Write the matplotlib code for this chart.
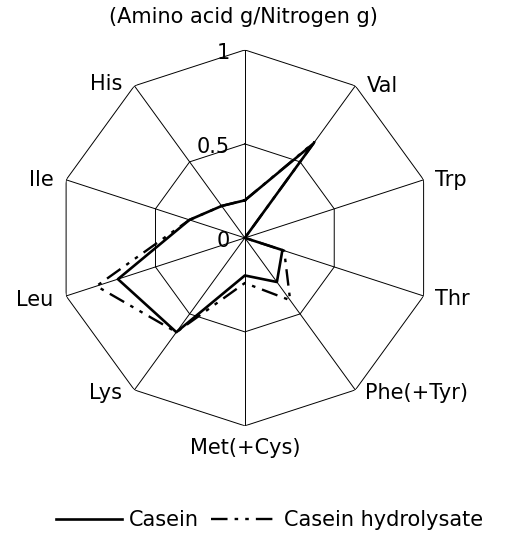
import numpy as np
import matplotlib
matplotlib.use('Agg')
from matplotlib import pyplot as plt

plt.rcParams['font.family'] = ['DejaVu Sans']

# axes clockwise from the top; the top spoke carries no label
labels = ['', 'Val', 'Trp', 'Thr', 'Phe(+Tyr)', 'Met(+Cys)', 'Lys', 'Leu', 'Ile', 'His']
casein = [0.20, 0.62, 0.0, 0.21, 0.29, 0.20, 0.62, 0.71, 0.31, 0.21]
hydrolysate = [0.20, 0.63, 0.0, 0.22, 0.41, 0.24, 0.62, 0.83, 0.31, 0.21]
rings = [0.5, 1.0]
ring_labels = ['0', '0.5', '1']

# label placement: offset in points, alignment
label_pos = {
    'Val': ((8, 0), 'left', 'center'),
    'Trp': ((8, 0), 'left', 'center'),
    'Thr': ((8, -2), 'left', 'center'),
    'Phe(+Tyr)': ((7, -2), 'left', 'center'),
    'Met(+Cys)': ((0, -16), 'center', 'center'),
    'Lys': ((-9, -2), 'right', 'center'),
    'Leu': ((-9, -3), 'right', 'center'),
    'Ile': ((-9, 0), 'right', 'center'),
    'His': ((-9, 1), 'right', 'center'),
}
fs = 15

n = len(labels)
ang = np.linspace(0, 2 * np.pi, n, endpoint=False)
ang_c = np.append(ang, ang[0])

fig = plt.figure(figsize=(5.08, 5.37), dpi=100)
ax = fig.add_axes([0.112, 0.207, 0.740, 0.700], projection='polar')
ax.set_theta_zero_location('N')
ax.set_theta_direction(-1)
ax.set_ylim(0, 1)
ax.set_xticks([])
ax.set_yticks([])
ax.grid(False)
ax.spines['polar'].set_visible(False)

# polygon grid and spokes
for r in rings:
    ax.plot(ang_c, [r] * (n + 1), color='black', lw=0.7)
for a in ang:
    ax.plot([a, a], [0, 1], color='black', lw=0.7)

l1, = ax.plot(ang_c, casein + casein[:1], color='black', lw=1.9, label='Casein')
l2, = ax.plot(ang_c, hydrolysate + hydrolysate[:1], color='black', lw=1.7,
              linestyle=(0, (7, 3, 1.5, 3, 1.5, 3)), label='Casein hydrolysate')

for a, lab in zip(ang, labels):
    if not lab:
        continue
    off, ha, va = label_pos[lab]
    ax.annotate(lab, xy=(a, 1), xytext=off, textcoords='offset points',
                ha=ha, va=va, fontsize=fs)

for r, t in zip([0.0] + rings, ring_labels):
    ax.annotate(t, xy=(0, r), xytext=(-11, -2), textcoords='offset points',
                ha='right', va='center', fontsize=fs)

fig.text(0.48, 0.968, '(Amino acid g/Nitrogen g)', ha='center', va='center', fontsize=fs)

fig.legend(handles=[l1, l2], loc='center', bbox_to_anchor=(0.53, 0.032), ncol=2,
           frameon=False, fontsize=fs, handlelength=3.2, handletextpad=0.3,
           columnspacing=0.6)

fig.savefig('out.png', dpi=100)
